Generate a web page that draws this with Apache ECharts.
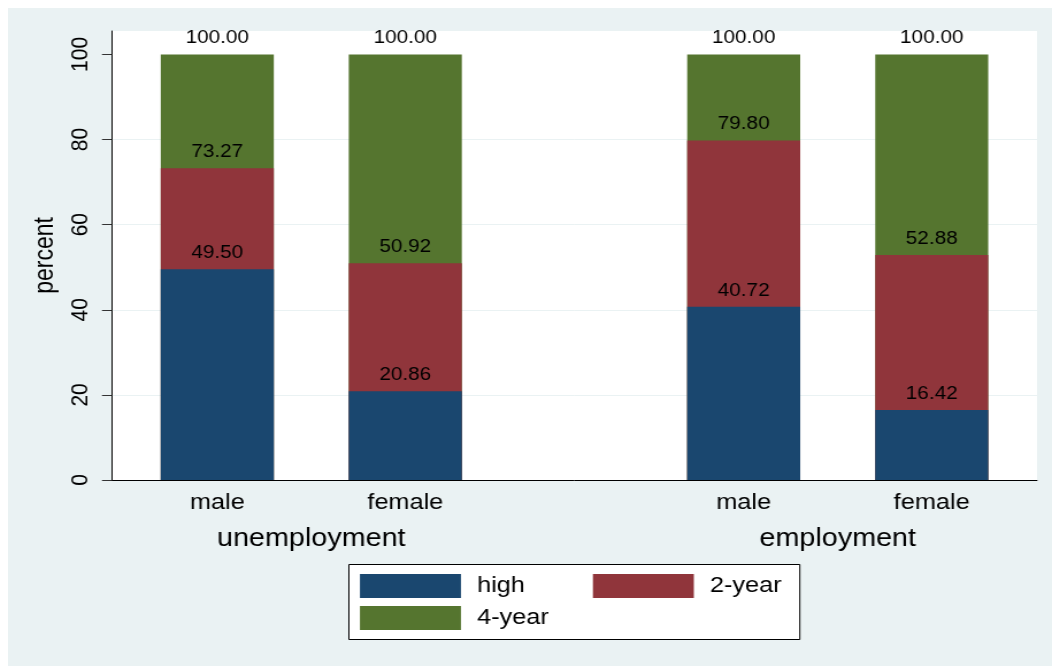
<!DOCTYPE html>
<html>
<head>
<meta charset="utf-8">
<script src="https://cdn.jsdelivr.net/npm/echarts@6/dist/echarts.min.js"></script>
<style>
  html, body { margin: 0; padding: 0; background: #ffffff; }
  #chart {
    position: absolute; left: 8px; top: 8px;
    width: 908px; height: 658px;
    transform: scaleX(1.14978); transform-origin: 0 0;
  }
</style>
</head>
<body>
<div id="chart"></div>
<script>
// Cumulative shares (percent) by education level, split by sex within each group
const categories = ['male', 'female', 'male', 'female'];
const groups = ['unemployment', 'employment'];
const barPos = [0, 5, 14, 19];        // bar slots along the x scale
const groupPos = [2.5, 16.5];         // centre of each group of bars
const highTop = [49.50, 20.86, 40.72, 16.42];
const twoYearTop = [73.27, 50.92, 79.80, 52.88];
const fourYearTop = [100.00, 100.00, 100.00, 100.00];
const yTicks = [0, 20, 40, 60, 80, 100];

const FONT = 'Liberation Sans';
const NAVY = '#1A476F', MAROON = '#90353B', GREEN = '#55752F';

const chart = echarts.init(document.getElementById('chart'), null, { renderer: 'canvas' });

function barSeries(name, tops, color) {
  return {
    name: name,
    type: 'bar',
    data: barPos.map((x, i) => [x, tops[i]]),
    barWidth: 98.3,
    barGap: '-100%',
    itemStyle: { color: color },
    label: {
      show: true,
      position: 'top',
      distance: 7,
      fontSize: 18,
      fontFamily: FONT,
      color: '#000',
      formatter: p => p.value[1].toFixed(2)
    }
  };
}

const legendText = { fontSize: 22, color: '#000', lineHeight: 24, padding: [0, 0, 0, 9], fontFamily: FONT };

chart.setOption({
  animation: false,
  backgroundColor: '#EAF2F3',
  textStyle: { fontFamily: FONT },
  grid: {
    left: 90.45, right: 13.05, top: 23, bottom: 186,
    show: true, backgroundColor: '#ffffff', borderWidth: 0
  },
  xAxis: [
    {
      type: 'value', position: 'bottom', min: -2.8, max: 21.8,
      axisLine: { show: true, onZero: false, lineStyle: { color: '#000', width: 1 } },
      axisTick: { show: false },
      splitLine: { show: false },
      axisLabel: {
        customValues: barPos,
        formatter: v => categories[barPos.indexOf(v)] || '',
        fontSize: 22, color: '#000', margin: 12, fontFamily: FONT
      }
    },
    {
      type: 'value', position: 'bottom', gridIndex: 0, min: -2.8, max: 21.8,
      axisLine: { show: false, onZero: false },
      axisTick: { show: false },
      splitLine: { show: false },
      axisLabel: {
        customValues: groupPos,
        formatter: v => groups[groupPos.indexOf(v)] || '',
        fontSize: 25, color: '#000', margin: 47, fontFamily: FONT
      }
    }
  ],
  yAxis: {
    type: 'value', min: 0, max: 105.5, interval: 20,
    name: 'percent', nameLocation: 'middle', nameGap: 35,
    nameTextStyle: { fontSize: 23, color: '#000', fontFamily: FONT },
    axisLine: { show: true, onZero: false, lineStyle: { color: '#000', width: 1 } },
    axisTick: { show: true, length: 8.7, customValues: yTicks, lineStyle: { color: '#333' } },
    axisLabel: {
      customValues: yTicks, rotate: 90, fontSize: 21, color: '#000', margin: 17, fontFamily: FONT
    },
    splitLine: { show: true, showMaxLine: false, lineStyle: { color: '#EAF2F3', width: 1 } }
  },
  legend: [
    {
      orient: 'vertical', left: 306.1, top: 566, padding: 0,
      data: ['high', '4-year'],
      icon: 'rect', itemWidth: 87.8, itemHeight: 24, itemGap: 8,
      textStyle: legendText,
      selectedMode: false
    },
    {
      orient: 'vertical', left: 508.7, top: 566, padding: 0,
      data: ['2-year'],
      icon: 'rect', itemWidth: 87.8, itemHeight: 24, itemGap: 8,
      textStyle: legendText,
      selectedMode: false
    }
  ],
  graphic: [
    {
      type: 'rect', z: 1,
      shape: { x: 296.5, y: 556.5, width: 392.2, height: 75 },
      style: { fill: '#ffffff', stroke: '#000', lineWidth: 1 }
    }
  ],
  series: [
    barSeries('4-year', fourYearTop, GREEN),
    barSeries('2-year', twoYearTop, MAROON),
    barSeries('high', highTop, NAVY)
  ]
});
</script>
</body>
</html>
